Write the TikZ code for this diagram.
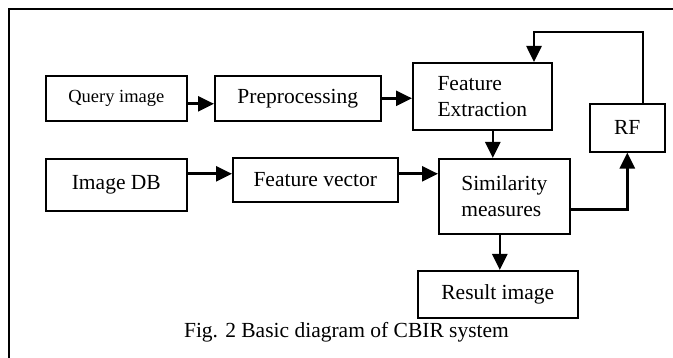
\documentclass[tikz,border=0pt]{standalone}
\usepackage{fontspec}
\setmainfont{Liberation Serif}
\usetikzlibrary{arrows.meta}

\begin{document}
\begin{tikzpicture}[x=1pt, y=-1pt,
	blk/.style={draw, line width=1.6pt, inner sep=0pt, anchor=north west, align=left, font=\fontsize{21.5}{26}\selectfont},
	arr/.style={line width=2.6pt, -{Triangle[length=16pt, width=15pt]}}]
	\useasboundingbox (0,0) rectangle (673,358);
	\draw[line width=1.6pt] (9,370) -- (9,9) -- (690,9);

	\node[blk, minimum width=141pt, minimum height=45pt, font=\fontsize{18.5}{22}\selectfont] (query) at (45,75) {Query image};
	\node[blk, minimum width=166pt, minimum height=45pt] (preproc) at (214,75) {Preprocessing};
	\node[blk, minimum width=139pt, minimum height=67pt] (featext) at (412,62) {Feature\\Extraction};
	\node[blk, minimum width=75pt, minimum height=48pt] (rf) at (589,103) {RF};
	\node[blk, minimum width=141pt, minimum height=52pt] (imgdb) at (45,158) {Image DB};
	\node[blk, minimum width=165pt, minimum height=44pt] (featvec) at (232,157) {Feature vector};
	\node[blk, minimum width=131pt, minimum height=75pt] (simil) at (438,158) {Similarity\\measures};
	\node[blk, minimum width=160pt, minimum height=47pt] (result) at (417,270) {Result image};
	\node[font=\fontsize{21.5}{26}\selectfont, anchor=base] (caption) at (346.5,338) {Fig. 2 Basic diagram of CBIR system};

	\draw[arr] ([yshift=-5.5pt]query.east) -- ([yshift=-5.5pt]preproc.west);
	\draw[arr] (preproc.east) -- (preproc.east -| featext.west);
	\draw[arr] ([yshift=11pt]imgdb.east) coordinate (a1) -- (a1 -| featvec.west);
	\draw[arr] ([yshift=6pt]featvec.east) coordinate (a2) -- (a2 -| simil.west);
	\draw[arr] ([xshift=10.5pt]featext.south) coordinate (a3) -- (a3 |- simil.north);
	\draw[arr] ([xshift=-4.5pt]simil.south) coordinate (a4) -- (a4 |- result.north);
	\draw[arr] ([yshift=-13.5pt]simil.east) -| (rf.south);
	\coordinate (fb) at (534,32);
	\draw[arr] ([xshift=15.5pt]rf.north) |- (fb) -- (fb |- featext.north);
\end{tikzpicture}
\end{document}
